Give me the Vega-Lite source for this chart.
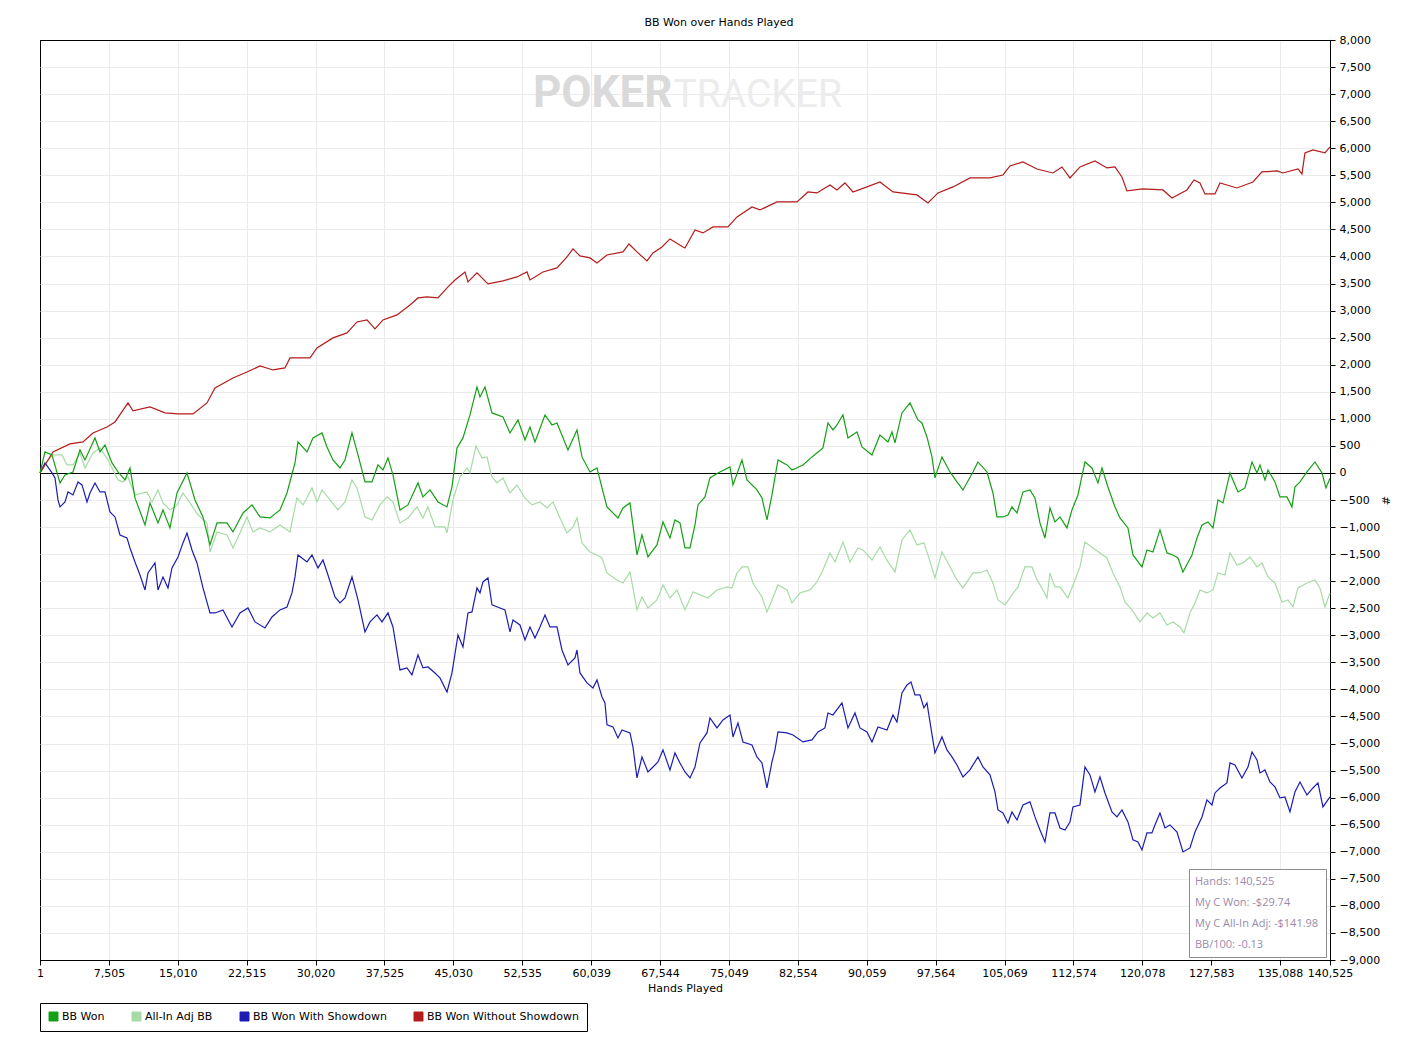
{
  "$schema": "https://vega.github.io/schema/vega-lite/v6.json",
  "width": 1290,
  "height": 920,
  "autosize": {"type": "none"},
  "padding": {"left": 40, "top": 40, "right": 94, "bottom": 91},
  "background": "white",
  "title": {"text": "BB Won over Hands Played", "font": "DejaVu Sans", "fontSize": 11, "fontWeight": "normal", "color": "black", "anchor": "middle", "dx": 34, "offset": -3, "baseline": "alphabetic"},
  "datasets": {
    "won": [
      {"hands":1,"bb":0},{"hands":545,"bb":388},{"hands":1307,"bb":333},{"hands":2179,"bb":-185},{"hands":2723,"bb":-37},{"hands":3595,"bb":18},{"hands":4357,"bb":425},{"hands":4902,"bb":240},{"hands":5991,"bb":647},{"hands":6536,"bb":388},{"hands":7080,"bb":517},{"hands":7843,"bb":185},{"hands":8497,"bb":18},{"hands":9259,"bb":-129},{"hands":9804,"bb":92},{"hands":10348,"bb":-462},{"hands":11438,"bb":-961},{"hands":11982,"bb":-554},{"hands":12854,"bb":-924},{"hands":13398,"bb":-684},{"hands":14161,"bb":-1016},{"hands":14923,"bb":-370},{"hands":16013,"bb":0},{"hands":16884,"bb":-499},{"hands":17756,"bb":-813},{"hands":18518,"bb":-1330},{"hands":19281,"bb":-924},{"hands":20370,"bb":-924},{"hands":21023,"bb":-1090},{"hands":22113,"bb":-739},{"hands":23093,"bb":-591},{"hands":23965,"bb":-813},{"hands":25054,"bb":-832},{"hands":26143,"bb":-684},{"hands":26906,"bb":-370},{"hands":27777,"bb":185},{"hands":28104,"bb":573},{"hands":29084,"bb":388},{"hands":29738,"bb":647},{"hands":30718,"bb":739},{"hands":31263,"bb":480},{"hands":31916,"bb":240},{"hands":32679,"bb":92},{"hands":33224,"bb":240},{"hands":33986,"bb":739},{"hands":34640,"bb":333},{"hands":35402,"bb":-166},{"hands":36165,"bb":-166},{"hands":36818,"bb":148},{"hands":37363,"bb":55},{"hands":37908,"bb":277},{"hands":38452,"bb":-37},{"hands":39215,"bb":-684},{"hands":40086,"bb":-591},{"hands":41176,"bb":-185},{"hands":41720,"bb":-443},{"hands":42483,"bb":-314},{"hands":43354,"bb":-536},{"hands":44335,"bb":-628},{"hands":44879,"bb":-259},{"hands":45424,"bb":462},{"hands":46077,"bb":647},{"hands":46840,"bb":1072},{"hands":47602,"bb":1589},{"hands":47929,"bb":1404},{"hands":48474,"bb":1589},{"hands":49236,"bb":1109},{"hands":50435,"bb":1035},{"hands":51197,"bb":739},{"hands":52069,"bb":979},{"hands":52831,"bb":610},{"hands":53376,"bb":850},{"hands":53921,"bb":573},{"hands":55010,"bb":1072},{"hands":55772,"bb":887},{"hands":56317,"bb":924},{"hands":57515,"bb":425},{"hands":58495,"bb":795},{"hands":59040,"bb":296},{"hands":59912,"bb":18},{"hands":60674,"bb":92},{"hands":61219,"bb":-277},{"hands":61763,"bb":-628},{"hands":62962,"bb":-832},{"hands":63506,"bb":-647},{"hands":64269,"bb":-554},{"hands":65031,"bb":-1515},{"hands":65576,"bb":-1146},{"hands":66229,"bb":-1552},{"hands":67210,"bb":-1330},{"hands":67863,"bb":-905},{"hands":68626,"bb":-1201},{"hands":69171,"bb":-868},{"hands":69715,"bb":-924},{"hands":70260,"bb":-1386},{"hands":70805,"bb":-1386},{"hands":71349,"bb":-961},{"hands":71676,"bb":-591},{"hands":72438,"bb":-443},{"hands":72983,"bb":-92},{"hands":73855,"bb":0},{"hands":75162,"bb":111},{"hands":75489,"bb":-222},{"hands":76469,"bb":240},{"hands":77014,"bb":-129},{"hands":78103,"bb":-314},{"hands":78648,"bb":-462},{"hands":79192,"bb":-868},{"hands":79737,"bb":-407},{"hands":80390,"bb":240},{"hands":81371,"bb":148},{"hands":81915,"bb":55},{"hands":83114,"bb":148},{"hands":84094,"bb":296},{"hands":85292,"bb":462},{"hands":85837,"bb":924},{"hands":86381,"bb":795},{"hands":86817,"bb":887},{"hands":87471,"bb":1072},{"hands":88015,"bb":647},{"hands":88996,"bb":758},{"hands":89540,"bb":480},{"hands":90630,"bb":333},{"hands":91501,"bb":702},{"hands":92373,"bb":573},{"hands":92808,"bb":758},{"hands":93135,"bb":554},{"hands":93898,"bb":1109},{"hands":94769,"bb":1293},{"hands":95641,"bb":979},{"hands":96076,"bb":924},{"hands":96621,"bb":665},{"hands":97166,"bb":296},{"hands":97492,"bb":-92},{"hands":98255,"bb":296},{"hands":99126,"bb":18},{"hands":99889,"bb":-166},{"hands":100542,"bb":-314},{"hands":101632,"bb":18},{"hands":102176,"bb":203},{"hands":103157,"bb":18},{"hands":103810,"bb":-370},{"hands":104246,"bb":-813},{"hands":104900,"bb":-813},{"hands":105444,"bb":-776},{"hands":105880,"bb":-628},{"hands":106425,"bb":-739},{"hands":107078,"bb":-351},{"hands":107840,"bb":-314},{"hands":108385,"bb":-462},{"hands":108930,"bb":-924},{"hands":109475,"bb":-1201},{"hands":110019,"bb":-647},{"hands":110564,"bb":-905},{"hands":111109,"bb":-813},{"hands":111871,"bb":-1016},{"hands":112416,"bb":-684},{"hands":113069,"bb":-407},{"hands":113832,"bb":203},{"hands":114594,"bb":92},{"hands":115248,"bb":-185},{"hands":115684,"bb":92},{"hands":116337,"bb":-259},{"hands":117100,"bb":-628},{"hands":117644,"bb":-832},{"hands":118516,"bb":-1016},{"hands":119061,"bb":-1515},{"hands":120041,"bb":-1737},{"hands":120586,"bb":-1423},{"hands":121239,"bb":-1460},{"hands":122002,"bb":-1053},{"hands":122767,"bb":-1478},{"hands":123420,"bb":-1515},{"hands":123965,"bb":-1571},{"hands":124509,"bb":-1829},{"hands":125492,"bb":-1515},{"hands":126037,"bb":-1201},{"hands":126581,"bb":-961},{"hands":127234,"bb":-905},{"hands":127779,"bb":-1016},{"hands":128324,"bb":-499},{"hands":128868,"bb":-554},{"hands":129630,"bb":0},{"hands":130502,"bb":-351},{"hands":131264,"bb":-277},{"hands":132028,"bb":203},{"hands":132570,"bb":0},{"hands":132895,"bb":148},{"hands":133440,"bb":-129},{"hands":133768,"bb":55},{"hands":134530,"bb":-166},{"hands":135076,"bb":-443},{"hands":135836,"bb":-443},{"hands":136380,"bb":-628},{"hands":136707,"bb":-259},{"hands":137252,"bb":-166},{"hands":138014,"bb":18},{"hands":138886,"bb":203},{"hands":139650,"bb":0},{"hands":140085,"bb":-277},{"hands":140525,"bb":-100}
    ],
    "adj": [
      {"hands":1,"bb":0},{"hands":763,"bb":203},{"hands":1416,"bb":333},{"hands":2396,"bb":333},{"hands":2941,"bb":148},{"hands":3595,"bb":148},{"hands":4357,"bb":370},{"hands":4902,"bb":92},{"hands":5773,"bb":370},{"hands":6536,"bb":462},{"hands":7407,"bb":240},{"hands":8497,"bb":-129},{"hands":9041,"bb":-166},{"hands":9586,"bb":-74},{"hands":10348,"bb":-407},{"hands":11655,"bb":-351},{"hands":12200,"bb":-536},{"hands":12854,"bb":-314},{"hands":13398,"bb":-554},{"hands":14161,"bb":-684},{"hands":14923,"bb":-591},{"hands":15577,"bb":-370},{"hands":16340,"bb":-554},{"hands":17211,"bb":-776},{"hands":18191,"bb":-924},{"hands":18518,"bb":-1460},{"hands":19281,"bb":-1090},{"hands":20370,"bb":-1146},{"hands":21023,"bb":-1386},{"hands":21786,"bb":-1109},{"hands":22549,"bb":-813},{"hands":23202,"bb":-1090},{"hands":23965,"bb":-1016},{"hands":25054,"bb":-1090},{"hands":26143,"bb":-961},{"hands":27233,"bb":-1090},{"hands":27995,"bb":-462},{"hands":28649,"bb":-591},{"hands":29629,"bb":-277},{"hands":30174,"bb":-536},{"hands":30718,"bb":-314},{"hands":31590,"bb":-499},{"hands":32461,"bb":-684},{"hands":33224,"bb":-536},{"hands":33986,"bb":-129},{"hands":34531,"bb":-277},{"hands":35402,"bb":-813},{"hands":36165,"bb":-868},{"hands":37036,"bb":-591},{"hands":37799,"bb":-443},{"hands":38452,"bb":-536},{"hands":39215,"bb":-924},{"hands":40086,"bb":-832},{"hands":41067,"bb":-628},{"hands":41720,"bb":-832},{"hands":42265,"bb":-628},{"hands":43027,"bb":-998},{"hands":44117,"bb":-998},{"hands":44335,"bb":-1109},{"hands":44988,"bb":-499},{"hands":45751,"bb":-74},{"hands":46514,"bb":92},{"hands":46840,"bb":0},{"hands":47493,"bb":499},{"hands":48147,"bb":277},{"hands":48692,"bb":296},{"hands":49236,"bb":-74},{"hands":49781,"bb":-185},{"hands":50435,"bb":-92},{"hands":51197,"bb":-370},{"hands":51960,"bb":-222},{"hands":52831,"bb":-462},{"hands":53594,"bb":-591},{"hands":54465,"bb":-536},{"hands":55228,"bb":-647},{"hands":55881,"bb":-536},{"hands":56644,"bb":-832},{"hands":57406,"bb":-1109},{"hands":58060,"bb":-998},{"hands":58495,"bb":-832},{"hands":59040,"bb":-1293},{"hands":59912,"bb":-1460},{"hands":60674,"bb":-1515},{"hands":61219,"bb":-1571},{"hands":61763,"bb":-1848},{"hands":62853,"bb":-1977},{"hands":63506,"bb":-2033},{"hands":64269,"bb":-1829},{"hands":65031,"bb":-2531},{"hands":65576,"bb":-2291},{"hands":66229,"bb":-2495},{"hands":67210,"bb":-2347},{"hands":67863,"bb":-2070},{"hands":68626,"bb":-2310},{"hands":69388,"bb":-2162},{"hands":70260,"bb":-2531},{"hands":71131,"bb":-2199},{"hands":71894,"bb":-2254},{"hands":72765,"bb":-2310},{"hands":73745,"bb":-2162},{"hands":74834,"bb":-2106},{"hands":75379,"bb":-2125},{"hands":75924,"bb":-1848},{"hands":76469,"bb":-1737},{"hands":77122,"bb":-1737},{"hands":77667,"bb":-2033},{"hands":78648,"bb":-2291},{"hands":79192,"bb":-2568},{"hands":79737,"bb":-2347},{"hands":80390,"bb":-2070},{"hands":81371,"bb":-2162},{"hands":81915,"bb":-2402},{"hands":82786,"bb":-2217},{"hands":83876,"bb":-2162},{"hands":84639,"bb":-2014},{"hands":85292,"bb":-1792},{"hands":86055,"bb":-1478},{"hands":86600,"bb":-1645},{"hands":87471,"bb":-1275},{"hands":88233,"bb":-1645},{"hands":89105,"bb":-1386},{"hands":89649,"bb":-1423},{"hands":90630,"bb":-1608},{"hands":91501,"bb":-1367},{"hands":92373,"bb":-1645},{"hands":93135,"bb":-1829},{"hands":93898,"bb":-1238},{"hands":94769,"bb":-1053},{"hands":95532,"bb":-1330},{"hands":96288,"bb":-1293},{"hands":96730,"bb":-1515},{"hands":97492,"bb":-1940},{"hands":98255,"bb":-1460},{"hands":98911,"bb":-1663},{"hands":99889,"bb":-1977},{"hands":100542,"bb":-2125},{"hands":101632,"bb":-1848},{"hands":102395,"bb":-1848},{"hands":103157,"bb":-1792},{"hands":103810,"bb":-2033},{"hands":104355,"bb":-2347},{"hands":105117,"bb":-2439},{"hands":105880,"bb":-2254},{"hands":106534,"bb":-2106},{"hands":107296,"bb":-1737},{"hands":108059,"bb":-1737},{"hands":108603,"bb":-1977},{"hands":109148,"bb":-2125},{"hands":109693,"bb":-2310},{"hands":110019,"bb":-1848},{"hands":110564,"bb":-2106},{"hands":111109,"bb":-2106},{"hands":111983,"bb":-2310},{"hands":112743,"bb":-1977},{"hands":113287,"bb":-1737},{"hands":113832,"bb":-1275},{"hands":114703,"bb":-1386},{"hands":115466,"bb":-1478},{"hands":116228,"bb":-1571},{"hands":116882,"bb":-1848},{"hands":117644,"bb":-2106},{"hands":118189,"bb":-2384},{"hands":118952,"bb":-2531},{"hands":119823,"bb":-2753},{"hands":120586,"bb":-2587},{"hands":121239,"bb":-2679},{"hands":122002,"bb":-2587},{"hands":122767,"bb":-2809},{"hands":123420,"bb":-2753},{"hands":124180,"bb":-2846},{"hands":124620,"bb":-2956},{"hands":125273,"bb":-2587},{"hands":125818,"bb":-2402},{"hands":126359,"bb":-2162},{"hands":127122,"bb":-2217},{"hands":127779,"bb":-2162},{"hands":128324,"bb":-1848},{"hands":129083,"bb":-1885},{"hands":129630,"bb":-1478},{"hands":130389,"bb":-1700},{"hands":131043,"bb":-1663},{"hands":131805,"bb":-1552},{"hands":132570,"bb":-1737},{"hands":133112,"bb":-1663},{"hands":133768,"bb":-1922},{"hands":134530,"bb":-2033},{"hands":135291,"bb":-2384},{"hands":135945,"bb":-2347},{"hands":136489,"bb":-2476},{"hands":137034,"bb":-2125},{"hands":138014,"bb":-2033},{"hands":138886,"bb":-1977},{"hands":139430,"bb":-2125},{"hands":139975,"bb":-2476},{"hands":140525,"bb":-2217}
    ],
    "sd": [
      {"hands":1,"bb":0},{"hands":545,"bb":185},{"hands":1307,"bb":0},{"hands":1634,"bb":-92},{"hands":1961,"bb":-499},{"hands":2179,"bb":-628},{"hands":2723,"bb":-536},{"hands":3050,"bb":-351},{"hands":3595,"bb":-407},{"hands":4139,"bb":-166},{"hands":4575,"bb":-222},{"hands":5120,"bb":-536},{"hands":5447,"bb":-370},{"hands":5991,"bb":-185},{"hands":6536,"bb":-351},{"hands":7080,"bb":-351},{"hands":7625,"bb":-721},{"hands":8170,"bb":-813},{"hands":8714,"bb":-1146},{"hands":9477,"bb":-1201},{"hands":9804,"bb":-1386},{"hands":10348,"bb":-1645},{"hands":10893,"bb":-1885},{"hands":11438,"bb":-2162},{"hands":11765,"bb":-1848},{"hands":12527,"bb":-1663},{"hands":12854,"bb":-2162},{"hands":13398,"bb":-1922},{"hands":13943,"bb":-2125},{"hands":14379,"bb":-1755},{"hands":15032,"bb":-1552},{"hands":15577,"bb":-1293},{"hands":16013,"bb":-1109},{"hands":16557,"bb":-1423},{"hands":17102,"bb":-1663},{"hands":17756,"bb":-2125},{"hands":18518,"bb":-2587},{"hands":19063,"bb":-2587},{"hands":19934,"bb":-2531},{"hands":20915,"bb":-2846},{"hands":21786,"bb":-2587},{"hands":22657,"bb":-2495},{"hands":23420,"bb":-2753},{"hands":24509,"bb":-2864},{"hands":25272,"bb":-2661},{"hands":26143,"bb":-2531},{"hands":26906,"bb":-2476},{"hands":27450,"bb":-2217},{"hands":27777,"bb":-1922},{"hands":28104,"bb":-1515},{"hands":29084,"bb":-1645},{"hands":29629,"bb":-1515},{"hands":30283,"bb":-1755},{"hands":30827,"bb":-1608},{"hands":31372,"bb":-1885},{"hands":32134,"bb":-2291},{"hands":32679,"bb":-2402},{"hands":33224,"bb":-2310},{"hands":33986,"bb":-1922},{"hands":34640,"bb":-2347},{"hands":35402,"bb":-2938},{"hands":35947,"bb":-2753},{"hands":36709,"bb":-2624},{"hands":37254,"bb":-2753},{"hands":37908,"bb":-2587},{"hands":38452,"bb":-2846},{"hands":39215,"bb":-3640},{"hands":39977,"bb":-3603},{"hands":40522,"bb":-3733},{"hands":41176,"bb":-3363},{"hands":41720,"bb":-3603},{"hands":42265,"bb":-3585},{"hands":43027,"bb":-3696},{"hands":43572,"bb":-3788},{"hands":44335,"bb":-4047},{"hands":44879,"bb":-3696},{"hands":45533,"bb":-2993},{"hands":46077,"bb":-3215},{"hands":46622,"bb":-2587},{"hands":47058,"bb":-2568},{"hands":47602,"bb":-2125},{"hands":47929,"bb":-2217},{"hands":48256,"bb":-2014},{"hands":48801,"bb":-1940},{"hands":49236,"bb":-2439},{"hands":50108,"bb":-2495},{"hands":50652,"bb":-2531},{"hands":51197,"bb":-2938},{"hands":51524,"bb":-2716},{"hands":52286,"bb":-2809},{"hands":52831,"bb":-3086},{"hands":53376,"bb":-2846},{"hands":53921,"bb":-3049},{"hands":54465,"bb":-2846},{"hands":55010,"bb":-2624},{"hands":55554,"bb":-2846},{"hands":56317,"bb":-2846},{"hands":56861,"bb":-3271},{"hands":57515,"bb":-3548},{"hands":58278,"bb":-3418},{"hands":58495,"bb":-3271},{"hands":58822,"bb":-3696},{"hands":59585,"bb":-3880},{"hands":60238,"bb":-3973},{"hands":60674,"bb":-3825},{"hands":61219,"bb":-4139},{"hands":61545,"bb":-4250},{"hands":61763,"bb":-4656},{"hands":62417,"bb":-4693},{"hands":62962,"bb":-4897},{"hands":63397,"bb":-4749},{"hands":64269,"bb":-4804},{"hands":64595,"bb":-5063},{"hands":65031,"bb":-5636},{"hands":65576,"bb":-5248},{"hands":66229,"bb":-5525},{"hands":66774,"bb":-5433},{"hands":67319,"bb":-5340},{"hands":67863,"bb":-5118},{"hands":68626,"bb":-5488},{"hands":69171,"bb":-5174},{"hands":69715,"bb":-5359},{"hands":70260,"bb":-5525},{"hands":70805,"bb":-5636},{"hands":71349,"bb":-5433},{"hands":71894,"bb":-4989},{"hands":72656,"bb":-4804},{"hands":72983,"bb":-4527},{"hands":73745,"bb":-4712},{"hands":74401,"bb":-4564},{"hands":75162,"bb":-4472},{"hands":75489,"bb":-4878},{"hands":76033,"bb":-4620},{"hands":76578,"bb":-4971},{"hands":77558,"bb":-5026},{"hands":78103,"bb":-5248},{"hands":78648,"bb":-5359},{"hands":79192,"bb":-5821},{"hands":79737,"bb":-5340},{"hands":80064,"bb":-5118},{"hands":80390,"bb":-4786},{"hands":81371,"bb":-4804},{"hands":82024,"bb":-4841},{"hands":83114,"bb":-4971},{"hands":84094,"bb":-4934},{"hands":84748,"bb":-4786},{"hands":85510,"bb":-4712},{"hands":85837,"bb":-4435},{"hands":86381,"bb":-4472},{"hands":87362,"bb":-4250},{"hands":88015,"bb":-4712},{"hands":88778,"bb":-4435},{"hands":89323,"bb":-4712},{"hands":90085,"bb":-4786},{"hands":90630,"bb":-4971},{"hands":91283,"bb":-4693},{"hands":92264,"bb":-4749},{"hands":92917,"bb":-4472},{"hands":93352,"bb":-4601},{"hands":93898,"bb":-4065},{"hands":94442,"bb":-3917},{"hands":94878,"bb":-3862},{"hands":95314,"bb":-4102},{"hands":95858,"bb":-4102},{"hands":96288,"bb":-4342},{"hands":96621,"bb":-4250},{"hands":96948,"bb":-4601},{"hands":97492,"bb":-5174},{"hands":98255,"bb":-4878},{"hands":98799,"bb":-5118},{"hands":99344,"bb":-5248},{"hands":99889,"bb":-5396},{"hands":100542,"bb":-5617},{"hands":101305,"bb":-5488},{"hands":102176,"bb":-5248},{"hands":102721,"bb":-5433},{"hands":103484,"bb":-5580},{"hands":104028,"bb":-5894},{"hands":104355,"bb":-6227},{"hands":104900,"bb":-6283},{"hands":105444,"bb":-6467},{"hands":105880,"bb":-6264},{"hands":106425,"bb":-6412},{"hands":107078,"bb":-6135},{"hands":107840,"bb":-6079},{"hands":108385,"bb":-6356},{"hands":108930,"bb":-6597},{"hands":109475,"bb":-6818},{"hands":110019,"bb":-6283},{"hands":110564,"bb":-6283},{"hands":111109,"bb":-6560},{"hands":111653,"bb":-6597},{"hands":112198,"bb":-6449},{"hands":112525,"bb":-6172},{"hands":113287,"bb":-6135},{"hands":113832,"bb":-5433},{"hands":114377,"bb":-5580},{"hands":114921,"bb":-5894},{"hands":115466,"bb":-5617},{"hands":116010,"bb":-5913},{"hands":116775,"bb":-6264},{"hands":117318,"bb":-6356},{"hands":117862,"bb":-6227},{"hands":118516,"bb":-6449},{"hands":119061,"bb":-6781},{"hands":119605,"bb":-6818},{"hands":120041,"bb":-6966},{"hands":120586,"bb":-6652},{"hands":121130,"bb":-6652},{"hands":121457,"bb":-6504},{"hands":122002,"bb":-6283},{"hands":122546,"bb":-6560},{"hands":123091,"bb":-6504},{"hands":123856,"bb":-6634},{"hands":124509,"bb":-7003},{"hands":125273,"bb":-6929},{"hands":125818,"bb":-6634},{"hands":126581,"bb":-6356},{"hands":127122,"bb":-6042},{"hands":127666,"bb":-6135},{"hands":127993,"bb":-5913},{"hands":128537,"bb":-5821},{"hands":129299,"bb":-5728},{"hands":129630,"bb":-5359},{"hands":130171,"bb":-5396},{"hands":130934,"bb":-5636},{"hands":131587,"bb":-5433},{"hands":132028,"bb":-5155},{"hands":132570,"bb":-5303},{"hands":132895,"bb":-5543},{"hands":133440,"bb":-5488},{"hands":133984,"bb":-5710},{"hands":134530,"bb":-5802},{"hands":135076,"bb":-6005},{"hands":135618,"bb":-5987},{"hands":136163,"bb":-6264},{"hands":136707,"bb":-5894},{"hands":137252,"bb":-5710},{"hands":138014,"bb":-5950},{"hands":138668,"bb":-5821},{"hands":139213,"bb":-5728},{"hands":139757,"bb":-6172},{"hands":140525,"bb":-5987}
    ],
    "nosd": [
      {"hands":1,"bb":0},{"hands":1416,"bb":388},{"hands":3268,"bb":536},{"hands":4684,"bb":573},{"hands":5773,"bb":739},{"hands":7298,"bb":850},{"hands":8170,"bb":942},{"hands":9586,"bb":1293},{"hands":10130,"bb":1146},{"hands":11982,"bb":1220},{"hands":13616,"bb":1109},{"hands":15032,"bb":1090},{"hands":16666,"bb":1090},{"hands":18191,"bb":1293},{"hands":19063,"bb":1571},{"hands":21023,"bb":1755},{"hands":22549,"bb":1866},{"hands":23965,"bb":1977},{"hands":25381,"bb":1903},{"hands":26688,"bb":1940},{"hands":27233,"bb":2125},{"hands":29411,"bb":2125},{"hands":30174,"bb":2310},{"hands":31916,"bb":2495},{"hands":33442,"bb":2587},{"hands":34531,"bb":2790},{"hands":35620,"bb":2827},{"hands":36492,"bb":2661},{"hands":37363,"bb":2827},{"hands":38888,"bb":2920},{"hands":40304,"bb":3104},{"hands":41176,"bb":3234},{"hands":42156,"bb":3252},{"hands":43354,"bb":3234},{"hands":44443,"bb":3437},{"hands":45206,"bb":3566},{"hands":46295,"bb":3714},{"hands":46622,"bb":3529},{"hands":47602,"bb":3696},{"hands":48801,"bb":3492},{"hands":50435,"bb":3548},{"hands":51960,"bb":3622},{"hands":53049,"bb":3714},{"hands":53376,"bb":3566},{"hands":54792,"bb":3714},{"hands":56317,"bb":3788},{"hands":57406,"bb":3991},{"hands":58060,"bb":4139},{"hands":58822,"bb":4010},{"hands":59912,"bb":3973},{"hands":60674,"bb":3880},{"hands":61763,"bb":4028},{"hands":63506,"bb":4084},{"hands":64160,"bb":4231},{"hands":65031,"bb":4084},{"hands":66121,"bb":3917},{"hands":66774,"bb":4065},{"hands":67754,"bb":4176},{"hands":68626,"bb":4324},{"hands":70042,"bb":4176},{"hands":70260,"bb":4158},{"hands":71349,"bb":4490},{"hands":72221,"bb":4435},{"hands":73310,"bb":4546},{"hands":74944,"bb":4546},{"hands":75924,"bb":4730},{"hands":77558,"bb":4915},{"hands":78430,"bb":4860},{"hands":80281,"bb":5008},{"hands":82460,"bb":5008},{"hands":83658,"bb":5192},{"hands":84639,"bb":5174},{"hands":86055,"bb":5322},{"hands":86817,"bb":5229},{"hands":87689,"bb":5359},{"hands":88560,"bb":5192},{"hands":90085,"bb":5285},{"hands":91501,"bb":5377},{"hands":92917,"bb":5192},{"hands":95532,"bb":5137},{"hands":96730,"bb":4989},{"hands":97819,"bb":5174},{"hands":99453,"bb":5285},{"hands":101305,"bb":5451},{"hands":103484,"bb":5451},{"hands":104900,"bb":5506},{"hands":105662,"bb":5673},{"hands":107078,"bb":5747},{"hands":108603,"bb":5617},{"hands":110346,"bb":5543},{"hands":111326,"bb":5654},{"hands":112198,"bb":5451},{"hands":113287,"bb":5654},{"hands":114921,"bb":5765},{"hands":116228,"bb":5636},{"hands":117100,"bb":5654},{"hands":117862,"bb":5469},{"hands":118407,"bb":5211},{"hands":120150,"bb":5248},{"hands":122328,"bb":5229},{"hands":123309,"bb":5081},{"hands":124943,"bb":5229},{"hands":125705,"bb":5414},{"hands":126359,"bb":5359},{"hands":126903,"bb":5155},{"hands":127993,"bb":5155},{"hands":128537,"bb":5359},{"hands":130389,"bb":5266},{"hands":132132,"bb":5377},{"hands":133112,"bb":5562},{"hands":134746,"bb":5580},{"hands":135400,"bb":5543},{"hands":137034,"bb":5617},{"hands":137470,"bb":5525},{"hands":137796,"bb":5913},{"hands":138668,"bb":5968},{"hands":139975,"bb":5913},{"hands":140525,"bb":6024}
    ],
    "stats": [
      {"stat": "Hands: 140,525"},
      {"stat": "My C Won: -$29.74"},
      {"stat": "My C All-In Adj: -$141.98"},
      {"stat": "BB/100: -0.13"}
    ]
  },
  "encoding": {
    "x": {
      "field": "hands",
      "type": "quantitative",
      "scale": {"domain": [1, 140525], "nice": false, "zero": false},
      "axis": {
        "values": [1, 7505, 15010, 22515, 30020, 37525, 45030, 52535, 60039, 67544, 75049, 82554, 90059, 97564, 105069, 112574, 120078, 127583, 135088, 140525],
        "tickCount": 40,
        "format": ",d",
        "title": "Hands Played",
        "grid": true,
        "gridColor": {"condition": {"test": "datum.value === 1 || datum.value === 140525", "value": "black"}, "value": "#ebebeb"},
        "domain": false,
        "tickColor": "black",
        "tickSize": 5,
        "labelPadding": 2,
        "labelOverlap": false,
        "labelFlush": false,
        "titlePadding": 4
      }
    },
    "y": {
      "field": "bb",
      "type": "quantitative",
      "scale": {"domain": [-9000, 8000], "nice": false, "zero": false},
      "axis": {
        "orient": "right",
        "values": [-9000, -8500, -8000, -7500, -7000, -6500, -6000, -5500, -5000, -4500, -4000, -3500, -3000, -2500, -2000, -1500, -1000, -500, 0, 500, 1000, 1500, 2000, 2500, 3000, 3500, 4000, 4500, 5000, 5500, 6000, 6500, 7000, 7500, 8000],
        "tickCount": 60,
        "format": ",d",
        "title": "#",
        "grid": true,
        "gridColor": {"condition": {"test": "datum.value === 0 || datum.value === 8000 || datum.value === -9000", "value": "black"}, "value": "#ebebeb"},
        "domain": false,
        "tickColor": "black",
        "tickSize": 5,
        "labelPadding": 4,
        "labelOverlap": false,
        "labelFlush": false,
        "titlePadding": 0
      }
    }
  },
  "layer": [
    {
      "data": {"name": "adj"},
      "mark": {"type": "line", "strokeWidth": 1.2},
      "encoding": {
        "color": {
          "datum": "All-In Adj BB",
          "scale": {
            "domain": ["BB Won", "All-In Adj BB", "BB Won With Showdown", "BB Won Without Showdown"],
            "range": ["#14a014", "#a6dba6", "#1c1cb4", "#b41c1c"]
          },
          "legend": {
            "title": null,
            "orient": "none",
            "legendX": 0,
            "legendY": 963,
            "direction": "horizontal",
            "symbolType": "square",
            "symbolSize": 81,
            "symbolStrokeWidth": 1,
            "labelFont": "DejaVu Sans",
            "labelFontSize": 11,
            "labelColor": "black",
            "labelOffset": 3,
            "columnPadding": 25,
            "padding": 8,
            "strokeColor": "black",
            "fillColor": "white",
            "encode": {
              "symbols": {
                "update": {
                  "fill": {"scale": "color", "field": "value"},
                  "stroke": {"value": "black"},
                  "strokeWidth": {"value": 1},
                  "opacity": {"value": 1}
                }
              }
            }
          }
        }
      }
    },
    {
      "data": {"name": "sd"},
      "mark": {"type": "line", "strokeWidth": 1.2},
      "encoding": {"color": {"datum": "BB Won With Showdown"}}
    },
    {
      "data": {"name": "nosd"},
      "mark": {"type": "line", "strokeWidth": 1.2},
      "encoding": {"color": {"datum": "BB Won Without Showdown"}}
    },
    {
      "data": {"name": "won"},
      "mark": {"type": "line", "strokeWidth": 1.2},
      "encoding": {"color": {"datum": "BB Won"}}
    },
    {
      "data": {"values": [{"hands": 68900, "bb": 6763}]},
      "mark": {"type": "text", "text": "POKER", "font": "Roboto", "fontWeight": "bold", "fontSize": 44, "color": "#dadada", "align": "right", "baseline": "alphabetic"}
    },
    {
      "data": {"values": [{"hands": 69000, "bb": 6763}]},
      "mark": {"type": "text", "text": "TRACKER", "font": "Roboto", "fontWeight": "normal", "fontSize": 39, "color": "#ececec", "align": "left", "baseline": "alphabetic"}
    },
    {
      "data": {"name": "stats"},
      "mark": {"type": "point", "opacity": 0},
      "encoding": {
        "shape": {
          "field": "stat",
          "type": "nominal",
          "scale": {"domain": ["Hands: 140,525", "My C Won: -$29.74", "My C All-In Adj: -$141.98", "BB/100: -0.13"]},
          "legend": {
            "title": null,
            "orient": "none",
            "legendX": 1149,
            "legendY": 829,
            "direction": "vertical",
            "symbolSize": 0,
            "symbolOpacity": 0,
            "labelFont": "Open Sans",
            "labelFontSize": 11,
            "labelColor": "#9a8aa8",
            "labelOffset": -12,
            "rowPadding": 9,
            "padding": 7,
            "strokeColor": "#8c8c8c",
            "fillColor": "white"
          }
        }
      }
    }
  ],
  "config": {
    "font": "DejaVu Sans",
    "view": {"stroke": "black", "strokeWidth": 1},
    "axis": {
      "labelFont": "DejaVu Sans",
      "labelFontSize": 11,
      "labelColor": "black",
      "titleFont": "DejaVu Sans",
      "titleFontSize": 11,
      "titleFontWeight": "normal",
      "titleColor": "black",
      "gridWidth": 1
    }
  }
}
